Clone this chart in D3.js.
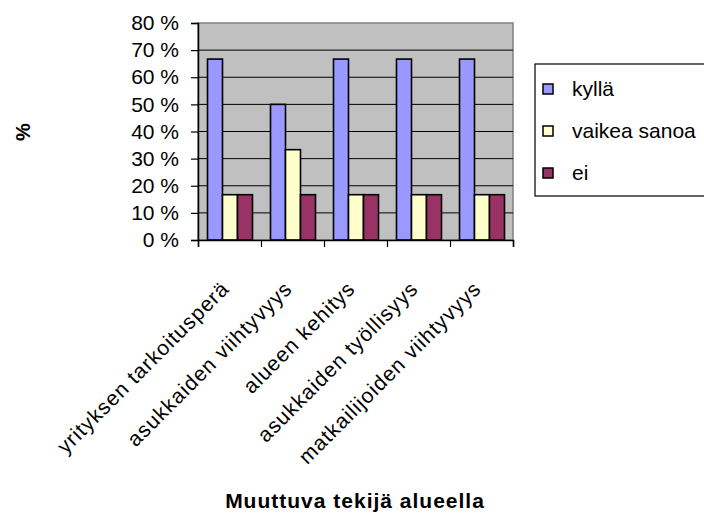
<!DOCTYPE html>
<meta charset="utf-8">
<title>Muuttuva tekijä alueella</title>
<style>
  body { margin: 0; background: #fff; }
  svg { display: block; font-family: Arial, "Liberation Sans", sans-serif; }
</style>
<svg width="704" height="515"></svg>
<script src="https://d3js.org/d3.v7.min.js"></script>
<script>

  var categories = ["yrityksen tarkoitusperä", "asukkaiden viihtyvyys", "alueen kehitys",
                    "asukkaiden työllisyys", "matkailijoiden viihtyvyys"];
  var seriesNames = ["kyllä", "vaikea sanoa", "ei"];
  var kylla = [66.7, 50, 66.7, 66.7, 66.7],
      vaikea = [16.7, 33.3, 16.7, 16.7, 16.7],
      ei = [16.7, 16.7, 16.7, 16.7, 16.7];
  var yTicks = [0, 10, 20, 30, 40, 50, 60, 70, 80];
  var colors = ["#9999ff", "#ffffcc", "#993366"];

  var series = [kylla, vaikea, ei];
  var data = categories.map(function(c, i) {
    return { cat: c, vals: series.map(function(s, j) { return { key: seriesNames[j], v: s[i] }; }) };
  });

  var svg = d3.select("svg");
  var pLeft = 198, pRight = 513, pTop = 23, pBottom = 240;

  var x0 = d3.scaleBand().domain(categories).range([pLeft, pRight]);
  var x1 = d3.scaleBand().domain(seriesNames).range([9.5, x0.bandwidth() - 8.5]);
  var y = d3.scaleLinear().domain([0, 80]).range([pBottom, pTop]);
  var z = d3.scaleOrdinal().domain(seriesNames).range(colors);

  // plot background
  svg.append("rect")
      .attr("x", pLeft).attr("y", pTop)
      .attr("width", pRight - pLeft).attr("height", pBottom - pTop)
      .attr("fill", "#c0c0c0")
      .attr("stroke", "#808080").attr("stroke-width", 1.5);

  // gridlines
  svg.append("g")
      .selectAll("line")
      .data(yTicks.filter(function(d) { return d > 0 && d < 80; }))
      .enter().append("line")
      .attr("x1", pLeft).attr("x2", pRight)
      .attr("y1", function(d) { return y(d); })
      .attr("y2", function(d) { return y(d); })
      .attr("stroke", "#000").attr("stroke-width", 1);

  // bars
  svg.append("g")
      .selectAll("g")
      .data(data)
      .enter().append("g")
      .attr("transform", function(d) { return "translate(" + x0(d.cat) + ",0)"; })
      .selectAll("rect")
      .data(function(d) { return d.vals; })
      .enter().append("rect")
      .attr("x", function(d) { return x1(d.key); })
      .attr("y", function(d) { return y(d.v); })
      .attr("width", x1.bandwidth())
      .attr("height", function(d) { return pBottom - y(d.v); })
      .attr("fill", function(d) { return z(d.key); })
      .attr("stroke", "#000").attr("stroke-width", 1.6);

  // y axis
  var yAxis = svg.append("g")
      .attr("transform", "translate(" + pLeft + ",0)")
      .call(d3.axisLeft(y).tickValues(yTicks).tickSize(7).tickPadding(12)
        .tickFormat(function(d) { return d + " %"; }));
  yAxis.select(".domain").attr("stroke", "#000").attr("stroke-width", 1.5);
  yAxis.selectAll(".tick line").attr("stroke", "#000").attr("stroke-width", 1.2);
  yAxis.selectAll("text").attr("font-size", 21).attr("fill", "#000")
      .attr("font-family", "Arial, 'Liberation Sans', sans-serif");

  // x axis (ticks at category boundaries)
  var xb = d3.scaleLinear().domain([0, categories.length]).range([pLeft, pRight]);
  var xAxis = svg.append("g")
      .attr("transform", "translate(0," + pBottom + ")")
      .call(d3.axisBottom(xb).ticks(categories.length).tickSize(7).tickFormat(""));
  xAxis.select(".domain").attr("stroke", "#000").attr("stroke-width", 1.5);
  xAxis.selectAll(".tick line").attr("stroke", "#000").attr("stroke-width", 1.2);

  // category labels
  svg.append("clipPath").attr("id", "lblclip")
      .append("rect").attr("x", 0).attr("y", 0).attr("width", 484).attr("height", 515);
  svg.append("g")
      .attr("clip-path", "url(#lblclip)")
      .selectAll("text")
      .data(categories)
      .enter().append("text")
      .attr("transform", function(d) {
        return "translate(" + (x0(d) + x0.bandwidth() / 2 + 1) + ",290) rotate(-45)";
      })
      .attr("text-anchor", "end")
      .attr("font-size", 21)
      .attr("letter-spacing", 1)
      .text(function(d) { return d; });

  // axis titles
  svg.append("text")
      .attr("x", 355).attr("y", 508)
      .attr("text-anchor", "middle")
      .attr("font-size", 21).attr("font-weight", "bold")
      .attr("letter-spacing", 1)
      .text("Muuttuva tekijä alueella");

  svg.append("text")
      .attr("transform", "translate(30,132) rotate(-90)")
      .attr("text-anchor", "middle")
      .attr("font-size", 20).attr("font-weight", "bold")
      .text("%");

  // legend
  var lg = svg.append("g").attr("transform", "translate(535,64)");
  lg.append("rect")
      .attr("width", 175).attr("height", 132)
      .attr("fill", "#fff").attr("stroke", "#000").attr("stroke-width", 1.2);
  var item = lg.selectAll("g")
      .data(seriesNames)
      .enter().append("g")
      .attr("transform", function(d, i) { return "translate(0," + (25 + i * 42) + ")"; });
  item.append("rect")
      .attr("x", 8).attr("y", -5).attr("width", 10).attr("height", 10)
      .attr("fill", function(d) { return z(d); })
      .attr("stroke", "#000").attr("stroke-width", 1.5);
  item.append("text")
      .attr("x", 37).attr("y", 7)
      .attr("font-size", 21)
      .text(function(d) { return d; });

</script>
